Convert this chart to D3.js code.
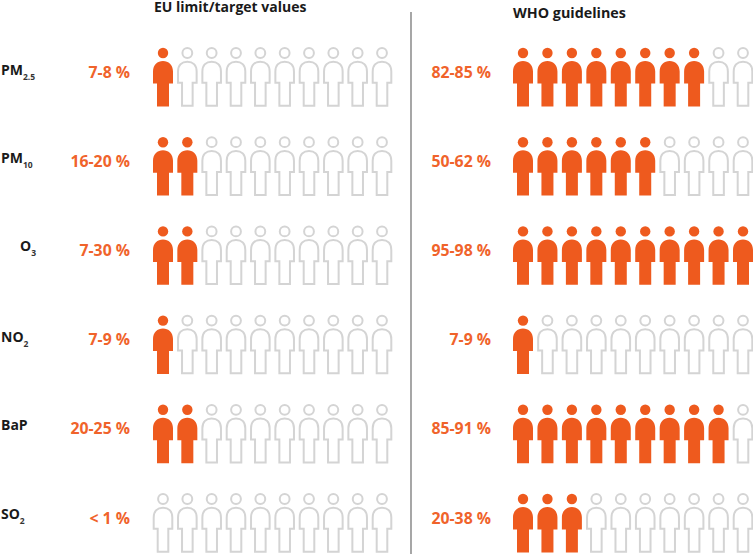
<!DOCTYPE html>
<html><head><meta charset="utf-8">
<script src="https://cdn.jsdelivr.net/npm/d3@7"></script>
<style>html,body{margin:0;padding:0;background:#fff}svg{display:block}text{font-family:"Open Sans",sans-serif;font-weight:700}</style>
</head><body><div id="c"></div>
<script>
const pollutants = ["PM","PM","O","NO","BaP","SO"];
const subscripts = ["2.5","10","3","2","","2"];
const euLabels = ["7-8 %","16-20 %","7-30 %","7-9 %","20-25 %","< 1 %"];
const whoLabels = ["82-85 %","50-62 %","95-98 %","7-9 %","85-91 %","20-38 %"];
const euFilled = [1,2,2,1,2,0];
const whoFilled = [8,6,10,1,9,3];
const titles = ["EU limit/target values","WHO guidelines"];
const people = d3.range(10);

const W=753,H=554;
const svg=d3.select("#c").append("svg").attr("width",W).attr("height",H);
const orange="#ee5a1e", grey="#d4d4d4", labelOrange="#f0632b", dark="#1a1a1a";

const yRow=d3.scalePoint().domain(d3.range(6)).range([53,499]);
const xEU=d3.scalePoint().domain(people).range([163,382]);
const xWHO=d3.scalePoint().domain(people).range([523,743]);

// person body outline relative to head centre; i insets it so stroked figures keep the same outer size
function bodyPath(i){const p=d3.path();
 const w=10-i, l=6-i, t=8+i, s=30.5-i, b=53.4-i;
 p.moveTo(-w,s);p.lineTo(-w,18.5);p.bezierCurveTo(-w,12,-5.5,t,0,t);p.bezierCurveTo(5.5,t,w,12,w,18.5);
 p.lineTo(w,s);p.lineTo(l,s);p.lineTo(l,b);p.lineTo(-l,b);p.lineTo(-l,s);p.closePath();return p.toString();}

function column(x,filled,labels,labelX){
 labels.forEach((lab,r)=>{
  const g=svg.append("g").attr("transform",`translate(0,${yRow(r)})`);
  g.append("text").attr("x",labelX).attr("y",24.6).attr("text-anchor","end").attr("font-size",15.8).attr("fill",labelOrange).text(lab);
  g.selectAll("g.p").data(people).join("g").attr("class","p").attr("transform",d=>`translate(${x(d)},0)`)
   .each(function(d){
     const on=d<filled[r], s=d3.select(this);
     if(on){
       s.append("circle").attr("r",5.2).attr("fill",orange);
       s.append("path").attr("d",bodyPath(0)).attr("fill",orange);
     } else {
       s.append("circle").attr("r",4.9).attr("fill","none").attr("stroke",grey).attr("stroke-width",2);
       s.append("path").attr("d",bodyPath(0.7)).attr("fill","none").attr("stroke",grey).attr("stroke-width",2);
     }
   });
 });
}
column(xEU,euFilled,euLabels,130);
column(xWHO,whoFilled,whoLabels,491);

const labelX=[1,1,20,1,1,1], labelY=[22,21,20,21,20,20];
pollutants.forEach((t,r)=>{
 const g=svg.append("text").attr("x",labelX[r]).attr("y",yRow(r)+labelY[r]).attr("font-size",14).attr("fill",dark);
 g.append("tspan").text(t);
 if(subscripts[r]) g.append("tspan").attr("dy",5).attr("font-size",8.5).attr("fill","#333").text(subscripts[r]);
});

svg.append("text").attr("x",154).attr("y",12).attr("font-size",14).attr("fill",dark).text(titles[0]);
svg.append("text").attr("x",513).attr("y",17.5).attr("font-size",14.3).attr("fill",dark).text(titles[1]);
svg.append("line").attr("x1",411).attr("x2",411).attr("y1",12).attr("y2",554).attr("stroke","#777").attr("stroke-width",1.3);
</script></body></html>
